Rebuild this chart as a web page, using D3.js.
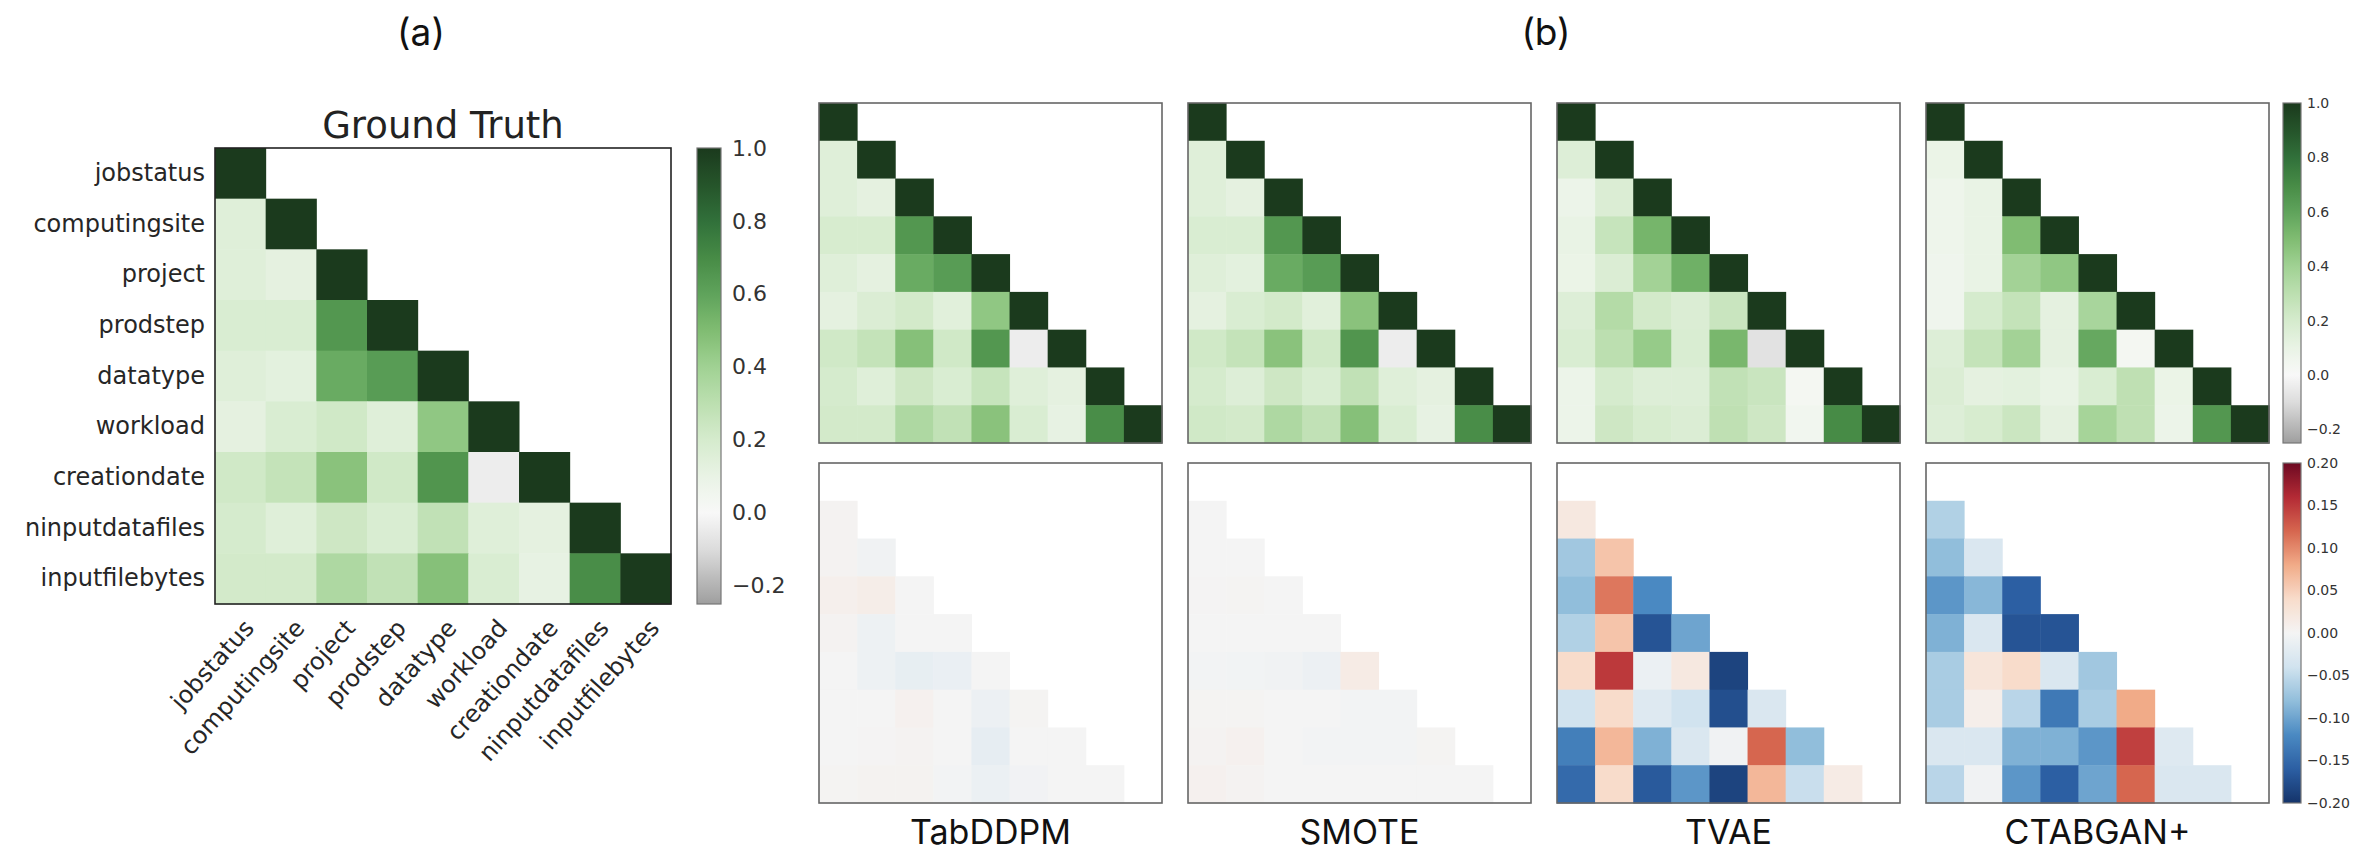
<!DOCTYPE html>
<html>
<head>
<meta charset="utf-8">
<script src="https://cdn.jsdelivr.net/npm/d3@7"></script>
<style>
  body { margin: 0; background: #fff; }
</style>
</head>
<body>
<div id="chart"></div>
<script>
// ---- data (lower triangles, row by row) ----
const features = ["jobstatus", "computingsite", "project", "prodstep", "datatype",
    "workload", "creationdate", "ninputdatafiles", "inputfilebytes"];

const methods = ["TabDDPM", "SMOTE", "TVAE", "CTABGAN+"];

// ground truth correlations (diagonal included)
const gtCorr = [
    [1],
    [0.15, 1],
    [0.15, 0.12, 1],
    [0.18, 0.18, 0.65, 1],
    [0.15, 0.13, 0.57, 0.63, 1],
    [0.12, 0.18, 0.22, 0.15, 0.45, 1],
    [0.22, 0.27, 0.47, 0.22, 0.66, -0.04, 1],
    [0.2, 0.15, 0.23, 0.18, 0.28, 0.15, 0.12, 1],
    [0.21, 0.21, 0.35, 0.28, 0.48, 0.18, 0.11, 0.69, 1]
];

const tabddpmCorr = [
    [1],
    [0.15, 1],
    [0.15, 0.12, 1],
    [0.19, 0.19, 0.65, 1],
    [0.15, 0.12, 0.57, 0.63, 1],
    [0.12, 0.17, 0.21, 0.14, 0.45, 1],
    [0.22, 0.27, 0.48, 0.22, 0.65, -0.04, 1],
    [0.2, 0.15, 0.23, 0.18, 0.26, 0.15, 0.12, 1],
    [0.21, 0.21, 0.35, 0.28, 0.47, 0.18, 0.11, 0.69, 1]
];

const smoteCorr = [
    [1],
    [0.15, 1],
    [0.15, 0.12, 1],
    [0.18, 0.18, 0.65, 1],
    [0.15, 0.13, 0.57, 0.63, 1],
    [0.12, 0.18, 0.21, 0.14, 0.47, 1],
    [0.22, 0.27, 0.47, 0.22, 0.66, -0.04, 1],
    [0.2, 0.16, 0.23, 0.18, 0.28, 0.15, 0.12, 1],
    [0.22, 0.21, 0.35, 0.28, 0.48, 0.18, 0.11, 0.69, 1]
];

const tvaeCorr = [
    [1],
    [0.16, 1],
    [0.08, 0.17, 1],
    [0.1, 0.26, 0.53, 1],
    [0.09, 0.17, 0.39, 0.55, 1],
    [0.16, 0.33, 0.21, 0.17, 0.25, 1],
    [0.18, 0.3, 0.43, 0.18, 0.52, -0.08, 1],
    [0.08, 0.2, 0.16, 0.16, 0.28, 0.25, 0.03, 1],
    [0.08, 0.23, 0.19, 0.17, 0.29, 0.23, 0.05, 0.7, 1]
];

const ctabganCorr = [
    [1],
    [0.09, 1],
    [0.07, 0.1, 1],
    [0.07, 0.1, 0.5, 1],
    [0.06, 0.1, 0.39, 0.45, 1],
    [0.06, 0.2, 0.27, 0.12, 0.37, 1],
    [0.16, 0.27, 0.39, 0.12, 0.58, 0.03, 1],
    [0.17, 0.12, 0.13, 0.1, 0.18, 0.29, 0.09, 1],
    [0.16, 0.19, 0.24, 0.12, 0.38, 0.29, 0.08, 0.65, 1]
];

// differences to ground truth (rows computingsite..inputfilebytes, diagonal excluded)
const tabddpmDiff = [
    [0.003],
    [0.003, -0.005],
    [0.008, 0.012, 0],
    [0.003, -0.008, 0, 0],
    [0, -0.008, -0.015, -0.011, 0],
    [0, 0, 0.006, 0, -0.009, 0.002],
    [0, 0.001, 0.003, 0, -0.016, 0, 0],
    [0.002, 0.004, 0.004, -0.002, -0.01, -0.004, 0, 0]
];

const smoteDiff = [
    [0],
    [0, 0],
    [0.001, 0.002, 0],
    [0, 0, 0, 0],
    [-0.002, -0.003, -0.005, -0.009, 0.015],
    [0.002, 0.002, 0, 0, -0.002, -0.002],
    [0.003, 0.006, 0, -0.002, -0.002, -0.002, 0.002],
    [0.006, 0.003, 0, 0, 0, 0, 0, 0]
];

const tvaeDiff = [
    [0.02],
    [-0.07, 0.06],
    [-0.08, 0.11, -0.12],
    [-0.06, 0.06, -0.17, -0.1],
    [0.04, 0.15, -0.01, 0.02, -0.185],
    [-0.04, 0.04, -0.025, -0.04, -0.175, -0.03],
    [-0.13, 0.07, -0.09, -0.03, -0.005, 0.12, -0.08],
    [-0.15, 0.04, -0.165, -0.11, -0.185, 0.07, -0.045, 0.015]
];

const ctabganDiff = [
    [-0.06],
    [-0.08, -0.03],
    [-0.11, -0.085, -0.16],
    [-0.09, -0.03, -0.17, -0.17],
    [-0.065, 0.025, 0.04, -0.03, -0.07],
    [-0.065, 0.01, -0.055, -0.135, -0.065, 0.08],
    [-0.03, -0.03, -0.09, -0.09, -0.11, 0.145, -0.025],
    [-0.055, -0.005, -0.11, -0.16, -0.1, 0.12, -0.03, -0.03]
];

const corrTicks = [1.0, 0.8, 0.6, 0.4, 0.2, 0.0, -0.2];
const diffTicks = [0.2, 0.15, 0.1, 0.05, 0.0, -0.05, -0.1, -0.15, -0.2];

const synthCorr = [tabddpmCorr, smoteCorr, tvaeCorr, ctabganCorr];
const synthDiff = [tabddpmDiff, smoteDiff, tvaeDiff, ctabganDiff];

// ---- colour maps ----
const corrColor = d3.scaleLinear()
    .domain([-0.25, -0.2, -0.1, 0, 0.1, 0.2, 0.3, 0.4, 0.5, 0.6, 0.7, 0.8, 0.9, 1.0])
    .range(["#9e9e9e", "#b3b3b3", "#dcdcdc", "#f8f8f8", "#e9f3e5", "#d5ebcd", "#bcdfb0",
            "#a0d193", "#80bc72", "#5fa35b", "#478b46", "#31703a", "#25542a", "#1b3a1d"])
    .clamp(true);

// RdBu_r, linear between the brewer stops
const diffColor = d3.scaleLinear()
    .domain(d3.range(-0.2, 0.2001, 0.04))
    .range(["#14336a", "#2c5fa3", "#4a89c2", "#91bedb", "#d1e3ef", "#f4f4f4",
            "#f8dccb", "#f1ab88", "#d6664f", "#b32a35", "#6d0a22"])
    .clamp(true);

const width = 2354, height = 851;

const svg = d3.select("#chart").append("svg")
    .attr("width", width)
    .attr("height", height)
    .style("font-family", "'DejaVu Sans', sans-serif");

svg.append("rect").attr("width", width).attr("height", height).attr("fill", "#fff");

// draws one heatmap of lower-triangle rows; rowOffset = 1 when diagonal is left out
function heatmap(g, rows, w, h, color, rowOffset, stroke) {
    const x = d3.scaleBand().domain(d3.range(features.length)).range([0, w]);
    const y = d3.scaleBand().domain(d3.range(features.length)).range([0, h]);

    const cells = rows.flatMap((r, i) => r.map((v, j) => ({ row: i + rowOffset, col: j, v: v })));

    g.selectAll("rect.cell")
        .data(cells)
        .join("rect")
        .attr("class", "cell")
        .attr("x", d => x(d.col))
        .attr("y", d => y(d.row))
        .attr("width", x.bandwidth() + 0.5)
        .attr("height", y.bandwidth() + 0.5)
        .attr("fill", d => color(d.v));

    g.append("rect")
        .attr("width", w)
        .attr("height", h)
        .attr("fill", "none")
        .attr("stroke", stroke)
        .attr("stroke-width", 1.6);

    return { x: x, y: y };
}

// vertical colour bar with its axis
function colorbar(id, x0, y0, w, h, domain, color, ticks, fmt, fontSize, pad) {
    const grad = svg.append("defs").append("linearGradient")
        .attr("id", id)
        .attr("x1", 0).attr("x2", 0).attr("y1", 1).attr("y2", 0);
    d3.range(0, 1.0001, 0.02).forEach(t => {
        grad.append("stop")
            .attr("offset", t)
            .attr("stop-color", color(domain[0] + t * (domain[1] - domain[0])));
    });

    const g = svg.append("g").attr("transform", `translate(${x0},${y0})`);
    g.append("rect")
        .attr("width", w)
        .attr("height", h)
        .attr("fill", `url(#${id})`)
        .attr("stroke", "#777")
        .attr("stroke-width", 1.2);

    const scale = d3.scaleLinear().domain(domain).range([h, 0]);
    const axis = g.append("g")
        .attr("transform", `translate(${w},0)`)
        .call(d3.axisRight(scale).tickValues(ticks).tickSize(0).tickPadding(pad).tickFormat(d3.format(fmt)));
    axis.select(".domain").remove();
    axis.selectAll("text")
        .style("font-family", "'DejaVu Sans', sans-serif")
        .style("font-size", fontSize + "px")
        .attr("fill", "#333");
}

// ---- (a) ground truth ----
const gt = { left: 215, top: 148, size: 456 };
const gtG = svg.append("g").attr("transform", `translate(${gt.left},${gt.top})`);
const gtScales = heatmap(gtG, gtCorr, gt.size, gt.size, corrColor, 0, "#222");

const yAxis = gtG.append("g")
    .call(d3.axisLeft(gtScales.y).tickSize(0).tickPadding(10).tickFormat(i => features[i]));
yAxis.select(".domain").remove();
yAxis.selectAll("text")
    .style("font-family", "'DejaVu Sans', sans-serif")
    .style("font-size", "24px")
    .attr("fill", "#262626");

const xAxis = gtG.append("g")
    .attr("transform", `translate(0,${gt.size})`)
    .call(d3.axisBottom(gtScales.x).tickSize(0).tickFormat(i => features[i]));
xAxis.select(".domain").remove();
xAxis.selectAll("text")
    .style("font-family", "'DejaVu Sans', sans-serif")
    .style("font-size", "24px")
    .attr("fill", "#262626")
    .attr("text-anchor", "end")
    .attr("x", 0).attr("y", 0).attr("dy", 0)
    .attr("transform", "translate(15,25) rotate(-48)");

gtG.append("text")
    .attr("x", gt.size / 2)
    .attr("y", -10)
    .attr("text-anchor", "middle")
    .style("font-size", "37px")
    .attr("fill", "#222")
    .text("Ground Truth");

colorbar("gtbar", 697, gt.top, 24, gt.size, [-0.25, 1], corrColor, corrTicks, ".1f", 22, 11);

// ---- (b) synthetic methods ----
const panelX = [819, 1188, 1557, 1926];
const panelW = 343, panelH = 340;
const topY = 103, botY = 463;

methods.forEach((m, k) => {
    const gTop = svg.append("g").attr("transform", `translate(${panelX[k]},${topY})`);
    heatmap(gTop, synthCorr[k], panelW, panelH, corrColor, 0, "#666");

    const gBot = svg.append("g").attr("transform", `translate(${panelX[k]},${botY})`);
    heatmap(gBot, synthDiff[k], panelW, panelH, diffColor, 1, "#666");

    svg.append("text")
        .attr("x", panelX[k] + panelW / 2)
        .attr("y", 844)
        .attr("text-anchor", "middle")
        .style("font-family", "Inter, sans-serif")
        .style("font-size", "34px")
        .attr("fill", "#111")
        .text(m);
});

colorbar("corrbar", 2283, topY, 18, panelH, [-0.25, 1], corrColor, corrTicks, ".1f", 14, 6);
colorbar("diffbar", 2283, botY, 18, panelH, [-0.2, 0.2], diffColor, diffTicks, ".2f", 14, 6);

// panel letters
svg.append("text")
    .attr("x", 421).attr("y", 45)
    .attr("text-anchor", "middle")
    .style("font-family", "Inter, sans-serif")
    .style("font-size", "37px")
    .attr("fill", "#111")
    .text("(a)");

svg.append("text")
    .attr("x", 1546).attr("y", 45)
    .attr("text-anchor", "middle")
    .style("font-family", "Inter, sans-serif")
    .style("font-size", "37px")
    .attr("fill", "#111")
    .text("(b)");
</script>
</body>
</html>
